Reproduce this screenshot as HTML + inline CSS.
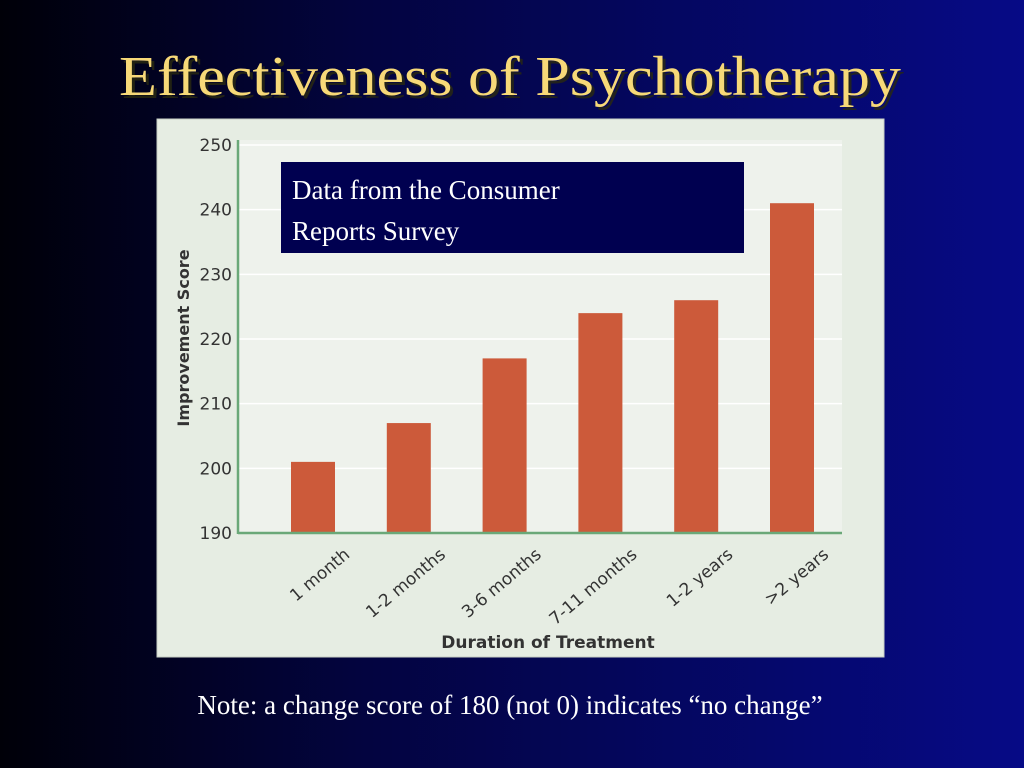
<!DOCTYPE html>
<html><head><meta charset="utf-8"><style>
html,body{margin:0;padding:0;width:1024px;height:768px;overflow:hidden;background:#000}
svg{display:block}
</style></head><body>
<svg width="1024" height="768" viewBox="0 0 1024 768" xmlns="http://www.w3.org/2000/svg">
<defs>
<linearGradient id="bg" x1="0" y1="0" x2="1" y2="0">
<stop offset="0" stop-color="#000008"/><stop offset="0.35" stop-color="#03043f"/><stop offset="1" stop-color="#060a86"/>
</linearGradient>
</defs>
<rect width="1024" height="768" fill="url(#bg)"/>
<text x="510" y="95" text-anchor="middle" font-family="Liberation Serif, serif" font-size="56" fill="#2a2a10" opacity="0.8" textLength="782" lengthAdjust="spacingAndGlyphs" transform="translate(3,3)">Effectiveness of Psychotherapy</text>
<text x="510" y="95" text-anchor="middle" font-family="Liberation Serif, serif" font-size="56" fill="#f7d978" textLength="782" lengthAdjust="spacingAndGlyphs">Effectiveness of Psychotherapy</text>
<rect x="157" y="119" width="727" height="538" fill="#e6ede3" stroke="#c8d0c4"/>
<rect x="238" y="140" width="604" height="393" fill="#eef2ec"/>
<g id="grid"></g>
<g id="bars"></g>
<g id="axes"></g>
<text transform="translate(189,338) rotate(-90)" text-anchor="middle" font-family="DejaVu Sans, sans-serif" font-weight="bold" font-size="16" fill="#333">Improvement Score</text>
<text x="548" y="648" text-anchor="middle" font-family="DejaVu Sans, sans-serif" font-weight="bold" font-size="17" fill="#333">Duration of Treatment</text>
<rect x="281" y="162" width="463" height="91" fill="#000050"/>
<text x="292" y="199" font-family="Liberation Serif, serif" font-size="27" fill="#fff">Data from the Consumer</text>
<text x="292" y="240" font-family="Liberation Serif, serif" font-size="27" fill="#fff">Reports Survey</text>
<text x="510" y="714" text-anchor="middle" font-family="Liberation Serif, serif" font-size="27" fill="#fff">Note: a change score of 180 (not 0) indicates “no change”</text>
</svg>
<script>
const categories = ["1 month","1-2 months","3-6 months","7-11 months","1-2 years",">2 years"];
const values = [201, 207, 217, 224, 226, 241];
const yTicks = [190, 200, 210, 220, 230, 240, 250];
const NS = "http://www.w3.org/2000/svg";
const yMin = 190, yMax = 250, yTop = 145, yBot = 533;
const xLeft = 238, xRight = 842;
function y(v){ return yBot - (v - yMin) / (yMax - yMin) * (yBot - yTop); }
const band = (xRight - xLeft - 6) / categories.length;
function xc(i){ return 313 + i * 95.8; }
function mk(tag, attrs, parent){ const e = document.createElementNS(NS, tag); for (const k in attrs) e.setAttribute(k, attrs[k]); parent.appendChild(e); return e; }
const grid = document.getElementById('grid'), bars = document.getElementById('bars'), axes = document.getElementById('axes');
yTicks.forEach(t => {
  if (t > yMin) {
    const l = mk('line', {x1: xLeft, x2: xRight, y1: y(t), y2: y(t), stroke: '#ffffff', 'stroke-width': 1.5}, grid);
    
    
  }
  const tx = mk('text', {x: 232, y: y(t) + 6, 'text-anchor': 'end', 'font-family': 'DejaVu Sans, sans-serif', 'font-size': 17, fill: '#333'}, axes);
  tx.textContent = t;
  
  
});
values.forEach((v, i) => {
  const r = mk('rect', {x: xc(i) - 22, y: y(v), width: 44, height: yBot - y(v), fill: '#cc5a3a'}, bars);
  
  
  const lx = xc(i) + 30, ly = yBot + 14;
  const t = mk('text', {x: lx, y: ly, 'text-anchor': 'end', 'font-family': 'DejaVu Sans, sans-serif', 'font-size': 17, fill: '#333', transform: 'rotate(-40 ' + lx + ' ' + ly + ')', 'dominant-baseline': 'hanging'}, axes);
  t.textContent = categories[i];
  
  
});
const ya = mk('line', {x1: xLeft, x2: xLeft, y1: 140, y2: yBot + 1, stroke: '#6aa878', 'stroke-width': 2.5}, axes);


const xa = mk('line', {x1: xLeft, x2: xRight, y1: yBot, y2: yBot, stroke: '#6aa878', 'stroke-width': 2.5}, axes);


</script>
</body></html>
